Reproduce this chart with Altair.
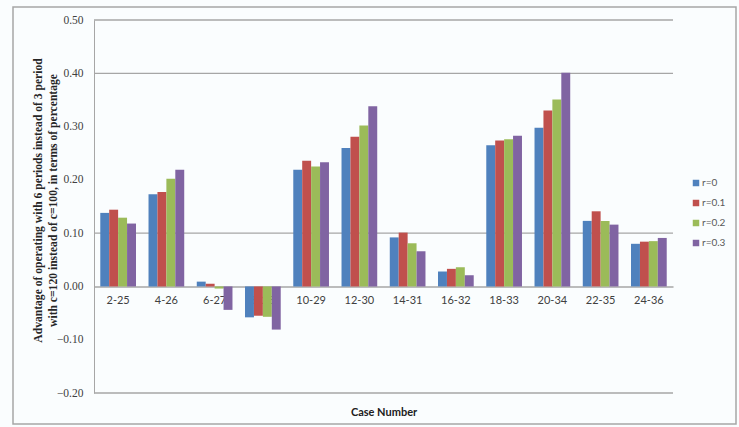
import altair as alt
import pandas as pd

# Case pairs along the x axis
cases = ["2-25", "4-26", "6-27", "8-28", "10-29", "12-30",
         "14-31", "16-32", "18-33", "20-34", "22-35", "24-36"]

# Advantage values for each interest rate r
r_0 = [0.138, 0.173, 0.009, -0.058, 0.219, 0.260, 0.092, 0.028, 0.265, 0.298, 0.123, 0.080]
r_01 = [0.144, 0.177, 0.005, -0.055, 0.236, 0.281, 0.101, 0.033, 0.274, 0.330, 0.141, 0.084]
r_02 = [0.129, 0.202, -0.004, -0.057, 0.225, 0.302, 0.081, 0.036, 0.276, 0.351, 0.123, 0.085]
r_03 = [0.118, 0.219, -0.044, -0.081, 0.233, 0.338, 0.066, 0.021, 0.283, 0.401, 0.116, 0.091]

series_names = ["r=0", "r=0.1", "r=0.2", "r=0.3"]
series_values = [r_0, r_01, r_02, r_03]
series_colors = ["#4F81BD", "#C0504D", "#9BBB59", "#8064A2"]

# Horizontal guide lines drawn across the plot
grid_values = [0.5, 0.4, 0.1, -0.2]

rows = []
for name, vals in zip(series_names, series_values):
    for case, v in zip(cases, vals):
        rows.append({"case": case, "series": name, "value": v})
df = pd.DataFrame(rows)
grid_df = pd.DataFrame({"g": grid_values})

W, H = 579, 373
y_scale = alt.Scale(domain=[-0.2, 0.5], nice=False, zero=False)

bars = alt.Chart(df).mark_bar().encode(
    x=alt.X("case:N", sort=cases,
            scale=alt.Scale(paddingInner=0.26, paddingOuter=0.13),
            axis=alt.Axis(title="Case Number", offset=-106.6, labelAngle=0,
                          ticks=False, domainColor="#a6a6a6", domainWidth=1.5,
                          labelFont="Lato", labelFontSize=11, labelColor="#404040",
                          labelPadding=8,
                          titleFont="Lato", titleFontSize=11, titleFontWeight="bold",
                          titleColor="#202020", titleY=120)),
    xOffset=alt.XOffset("series:N", sort=series_names,
                        scale=alt.Scale(paddingInner=0, paddingOuter=0)),
    y=alt.Y("value:Q", scale=y_scale,
            axis=alt.Axis(values=[0.5, 0.4, 0.3, 0.2, 0.1, 0.0, -0.1, -0.2],
                          labelExpr="format(datum.value, '.2f')",
                          grid=False, ticks=False, domainColor="#a6a6a6",
                          labelFont="Liberation Serif", labelFontSize=11.5,
                          labelColor="#404040", labelPadding=11,
                          title=["Advantage of operating with 6 periods instead of 3 period",
                                 "with c=120 instead of c=100, in terms of percentage"],
                          titleFont="Liberation Serif", titleFontSize=11.6,
                          titleFontWeight="bold", titleColor="#262626",
                          titleLineHeight=15, titleX=-51, titleY=180,
                          titleAngle=-90, titleAlign="center")),
    color=alt.Color("series:N", sort=series_names,
                    scale=alt.Scale(domain=series_names, range=series_colors),
                    legend=alt.Legend(title=None, orient="none", legendX=597,
                                      legendY=158, symbolType="square",
                                      symbolSize=42, symbolStrokeWidth=0,
                                      labelFont="Lato", labelFontSize=10,
                                      labelColor="#595959", rowPadding=10,
                                      labelOffset=1)),
)

grid = alt.Chart(grid_df).mark_rule(color="#a6a6a6", strokeWidth=1.3).encode(
    y=alt.Y("g:Q", scale=y_scale)
)

frame = alt.Chart(pd.DataFrame({"k": [0]})).mark_rect(
    fill=None, stroke="#a6a6a6", strokeWidth=1.5, clip=False
).encode(
    x=alt.value(-81), x2=alt.value(642), y=alt.value(-13), y2=alt.value(404)
)

chart = alt.layer(frame, grid, bars).properties(
    width=W, height=H,
    background="#fafdfe",
    padding={"left": 94, "top": 20, "right": 66, "bottom": 34},
    autosize=alt.AutoSizeParams(type="none"),
).configure_view(stroke=None)

chart.save("out.html", embed_options={"renderer": "svg", "actions": False})
